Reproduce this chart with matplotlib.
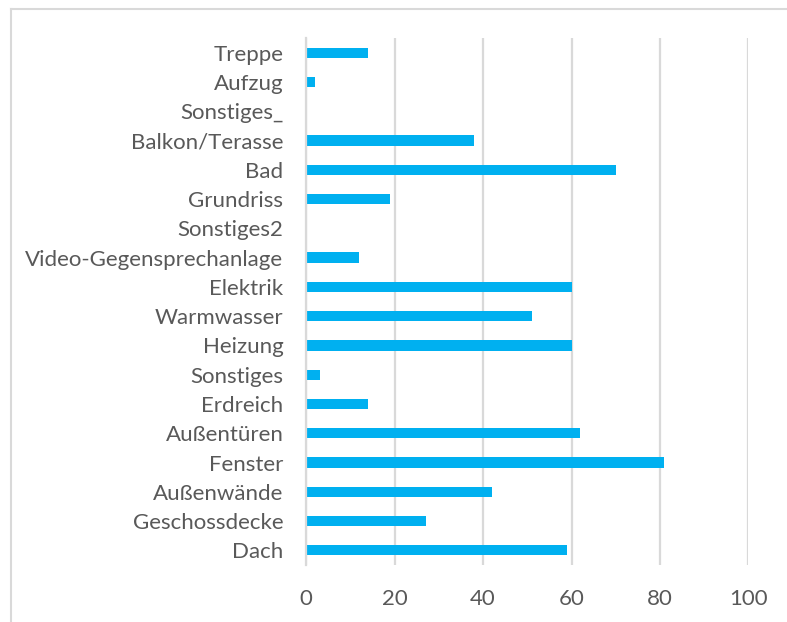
import matplotlib
matplotlib.use("Agg")
import matplotlib.pyplot as plt
from matplotlib.lines import Line2D

categories = [
    "Dach", "Geschossdecke", "Außenwände", "Fenster", "Außentüren",
    "Erdreich", "Sonstiges", "Heizung", "Warmwasser", "Elektrik",
    "Video-Gegensprechanlage", "Sonstiges2", "Grundriss", "Bad",
    "Balkon/Terasse", "Sonstiges_", "Aufzug", "Treppe",
]
values = [59, 27, 42, 81, 62, 14, 3, 60, 51, 60, 12, 0, 19, 70, 38, 0, 2, 14]
x_ticks = [0, 20, 40, 60, 80, 100]

BAR = "#00B0F0"
GRID = "#D9D9D9"
TEXT = "#595959"

plt.rcParams["font.family"] = ["Lato", "DejaVu Sans"]

W, H = 787, 622
fig = plt.figure(figsize=(W / 100, H / 100), dpi=100)
ax = fig.add_axes([306.3 / W, 1 - 565 / H, (748.3 - 306.3) / W, (565 - 38) / H])

y = list(range(len(categories)))
ax.barh(y, values, height=0.35, color=BAR, zorder=3)

ax.set_xlim(0, 100)
ax.set_ylim(-0.5, len(categories) - 0.5)
ax.set_xticks(x_ticks)
ax.set_xticklabels([str(t) for t in x_ticks])
ax.set_yticks(y)
ax.set_yticklabels(categories)

ax.xaxis.grid(True, color=GRID, linewidth=1.6, zorder=0)
ax.yaxis.grid(False)
for side in ("top", "right", "bottom"):
    ax.spines[side].set_visible(False)
ax.spines["left"].set_color(GRID)
ax.spines["left"].set_linewidth(1.6)
ax.spines["left"].set_zorder(4)

ax.tick_params(axis="both", length=0, colors=TEXT, labelsize=16)
ax.tick_params(axis="y", pad=16.5)
ax.tick_params(axis="x", pad=17)

# chart area frame
top = 1 - 8.5 / H
left = 10.5 / W
fig.add_artist(Line2D([left, 1.0], [top, top], transform=fig.transFigure,
                      color=GRID, linewidth=1.5))
fig.add_artist(Line2D([left, left], [0.0, top], transform=fig.transFigure,
                      color=GRID, linewidth=1.5))

fig.savefig("out.png", dpi=100, facecolor="white")
